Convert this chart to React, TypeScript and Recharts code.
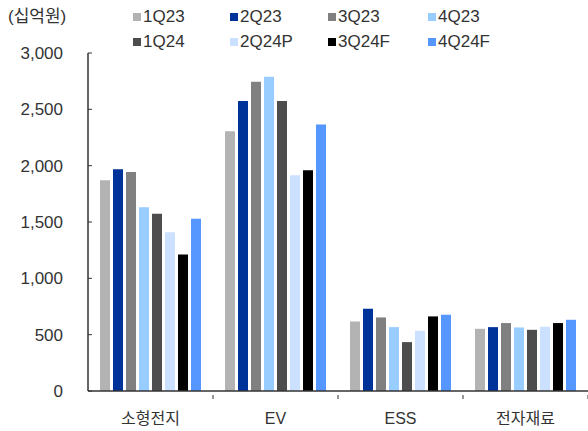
import React from 'react';
import { BarChart, Bar, XAxis, YAxis } from 'recharts';

const categories = ['소형전지', 'EV', 'ESS', '전자재료'];
const seriesNames = ['1Q23', '2Q23', '3Q23', '4Q23', '1Q24', '2Q24P', '3Q24F', '4Q24F'];
const seriesColors = ['#b3b3b3', '#003399', '#808080', '#99ccff', '#4d4d4d', '#cce0ff', '#000000', '#5596ff'];

const q1_23 = [1870, 2306, 617, 552];
const q2_23 = [1968, 2573, 730, 567];
const q3_23 = [1944, 2745, 653, 603];
const q4_23 = [1632, 2790, 567, 564];
const q1_24 = [1573, 2573, 434, 543];
const q2_24p = [1410, 1915, 534, 570];
const q3_24f = [1211, 1959, 662, 603];
const q4_24f = [1529, 2366, 677, 632];

const yTicks = [0, 500, 1000, 1500, 2000, 2500, 3000];

const seriesValues = [q1_23, q2_23, q3_23, q4_23, q1_24, q2_24p, q3_24f, q4_24f];
const data = categories.map((name, i) => {
  const row: Record<string, string | number> = { name };
  seriesNames.forEach((s, j) => {
    row[s] = seriesValues[j][i];
  });
  return row;
});

const FONT = '"Liberation Sans", Arial, "Noto Sans CJK KR", sans-serif';
const TEXT = '#333333';
const AXIS = '#333333';

const W = 588;
const H = 431;
const Y_W = 88;
const BAND = (W - Y_W) / categories.length;

const YTick = (props: any) => {
  const { x, y, payload } = props;
  return (
    <g>
      <line x1={x + 25} x2={x + 29} y1={y} y2={y} stroke={AXIS} strokeWidth={1} />
      <text x={x} y={y} dy={6} textAnchor="end" fontSize={17} fill={TEXT} fontFamily={FONT}>
        {Number(payload.value).toLocaleString('en-US')}
      </text>
    </g>
  );
};

const XTick = (props: any) => {
  const { x, y, payload } = props;
  const right = x + BAND / 2;
  return (
    <g>
      <line x1={right} x2={right} y1={y} y2={y - 4} stroke={AXIS} strokeWidth={1} />
      <text x={x} y={y} dy={25} textAnchor="middle" fontSize={16} fill={TEXT} fontFamily={FONT}>
        {payload.value}
      </text>
    </g>
  );
};

const LegendBox = () => {
  const cols = [133, 230, 328, 428];
  const rows = [17, 42];
  return (
    <>
      {seriesNames.map((s, i) => (
        <div
          key={s}
          style={{
            position: 'absolute',
            left: cols[i % 4],
            top: rows[Math.floor(i / 4)] - 9,
            display: 'flex',
            alignItems: 'center',
            height: 18,
            fontFamily: FONT,
            fontSize: 17,
            color: TEXT,
          }}
        >
          <span style={{ width: 8, height: 8, background: seriesColors[i], marginRight: 2, display: 'inline-block' }} />
          {s}
        </div>
      ))}
    </>
  );
};

export default function App() {
  return (
    <div style={{ position: 'absolute', left: 0, top: 0, width: W, height: H, background: '#fff' }}>
      <BarChart
        width={W}
        height={H}
        data={data}
        margin={{ top: 53, right: 0, bottom: 0, left: 0 }}
        barSize={10}
        barGap={3}
      >
        <XAxis
          dataKey="name"
          height={40}
          axisLine={{ stroke: AXIS, strokeWidth: 1.5 }}
          tickLine={false}
          tick={<XTick />}
          interval={0}
        />
        <YAxis
          width={Y_W}
          domain={[0, 3000]}
          ticks={yTicks}
          axisLine={{ stroke: AXIS, strokeWidth: 1.5 }}
          tickLine={false}
          tickSize={0}
          tickMargin={25}
          tick={<YTick />}
        />
        {seriesNames.map((s, i) => (
          <Bar key={s} dataKey={s} fill={seriesColors[i]} isAnimationActive={false} />
        ))}
      </BarChart>
      <div
        style={{
          position: 'absolute',
          left: 8,
          top: 8,
          fontFamily: FONT,
          fontSize: 17,
          color: TEXT,
          lineHeight: '18px',
        }}
      >
        (십억원)
      </div>
      <LegendBox />
    </div>
  );
}
